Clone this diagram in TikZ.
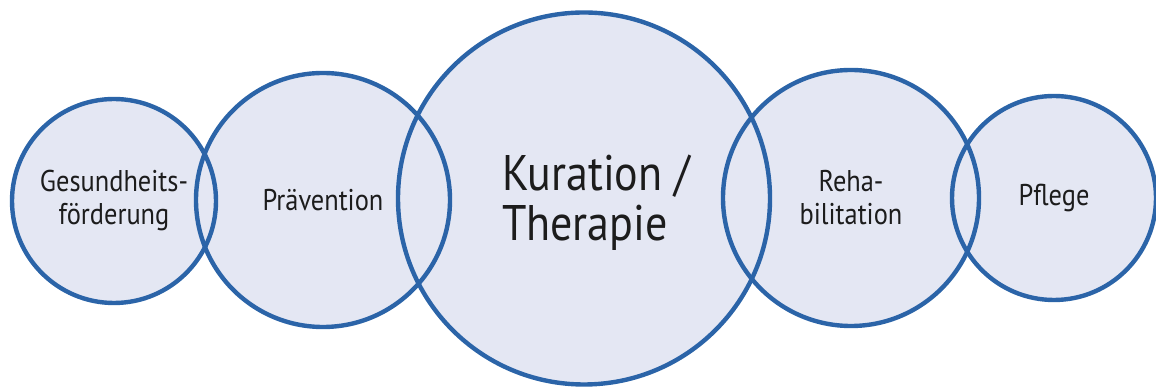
\documentclass[tikz,border=0pt]{standalone}
\usepackage{fontspec}
\setmainfont[FakeStretch=0.88]{PT Sans}
\usepackage{tikz}
\usetikzlibrary{positioning}
\definecolor{ringblue}{HTML}{2B64A8}
\definecolor{discfill}{HTML}{E4E7F3}
\definecolor{labelink}{HTML}{1C1C1C}
\tikzset{
    disc/.style={circle, draw=ringblue, line width=2.2pt, inner sep=0pt, text=labelink, align=center, font=\fontsize{15}{16.5}\selectfont},
}

\begin{document}
\begin{tikzpicture}[x=0.5pt, y=0.5pt]
    \useasboundingbox (0, 0) rectangle (1156, 390);
    % fills first, so every ring stays visible in the overlaps
    \foreach \cx/\cy/\r in {114/189/102, 323/190/127, 584/191.5/186, 851/192/128, 1054/192/102}
        \fill[discfill] (\cx, \cy) circle (\r);
    \node[disc, minimum size=102pt] (health) at (114, 189) {Gesundheits-\\förderung};
    \node[disc, minimum size=127pt] (prev) at (323, 190) {Prävention};
    \node[disc, minimum size=186pt] (cure) at (584, 191.5) {};
    \node[text=labelink, align=left, font=\fontsize{25}{25}\selectfont] (curelabel) at ([xshift=6pt, yshift=-2pt]cure.center) {Kuration /\\Therapie};
    \node[disc, minimum size=128pt] (rehab) at (851, 192) {Reha-\\bilitation};
    \node[disc, minimum size=102pt] (care) at (1054, 192) {Pflege};
\end{tikzpicture}
\end{document}
